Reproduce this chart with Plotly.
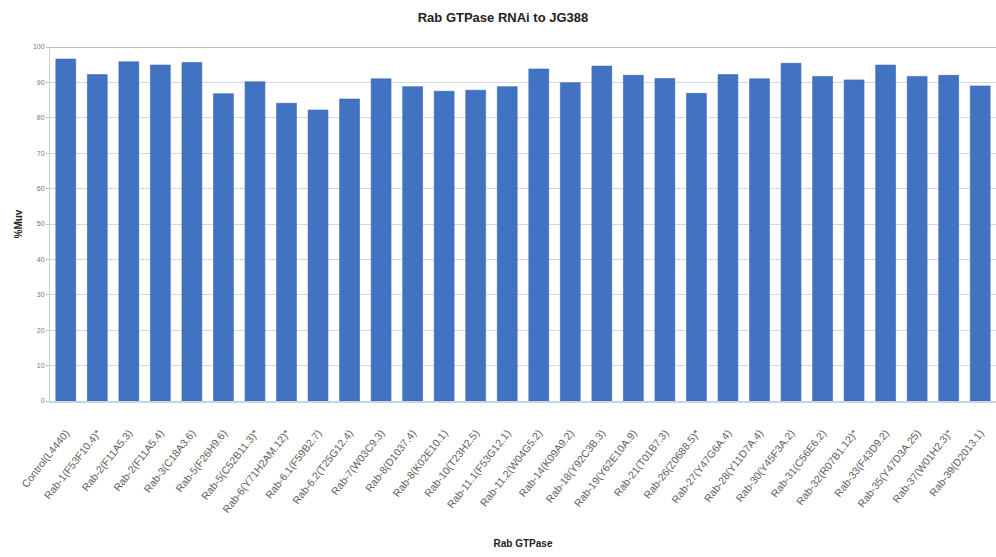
import plotly.graph_objects as go

# RNAi knockdown targets (gene and clone) and the resulting %Muv
genes = [
    "Control(L4440)", "Rab-1(F53F10.4)*", "Rab-2(F11A5.3)", "Rab-2(F11A5.4)",
    "Rab-3(C18A3.6)", "Rab-5(F26H9.6)", "Rab-5(C52B11.3)*", "Rab-6(Y71H2AM.12)*",
    "Rab-6.1(F59B2.7)", "Rab-6.2(T25G12.4)", "Rab-7(W03C9.3)", "Rab-8(D1037.4)",
    "Rab-8(K02E10.1)", "Rab-10(T23H2.5)", "Rab-11.1(F53G12.1)", "Rab-11.2(W04G5.2)",
    "Rab-14(K09A9.2)", "Rab-18(Y92C3B.3)", "Rab-19(Y62E10A.9)", "Rab-21(T01B7.3)",
    "Rab-26(Z0688.5)*", "Rab-27(Y47G6A.4)", "Rab-28(Y11D7A.4)", "Rab-30(Y45F3A.2)",
    "Rab-31(C56E6.2)", "Rab-32(R07B1.12)*", "Rab-33(F43D9.2)", "Rab-35(Y47D3A.25)",
    "Rab-37(W01H2.3)*", "Rab-39(D2013.1)",
]
muv = [
    96.6, 92.2, 95.8, 94.9, 95.6, 86.8, 90.2, 84.1, 82.2, 85.3,
    91.0, 88.8, 87.5, 87.8, 88.8, 93.8, 89.9, 94.6, 92.0, 91.1,
    86.9, 92.2, 91.0, 95.4, 91.7, 90.7, 94.9, 91.7, 92.0, 89.0,
]
y_ticks = [0, 10, 20, 30, 40, 50, 60, 70, 80, 90, 100]

fig = go.Figure(
    go.Bar(
        x=genes,
        y=muv,
        marker=dict(color="#4273C2", line=dict(color="#3A66AE", width=0.6)),
    )
)

fig.update_layout(
    width=996,
    height=557,
    margin=dict(l=50, r=0, t=47, b=156),
    paper_bgcolor="white",
    plot_bgcolor="white",
    bargap=0.37,
    showlegend=False,
    title=dict(
        text="<b>Rab GTPase RNAi to JG388</b>",
        x=0.505,
        xanchor="center",
        y=0.968,
        yanchor="middle",
        font=dict(family="Liberation Sans, Arial", size=13, color="#222222"),
    ),
    font=dict(family="Liberation Sans, Arial"),
)

fig.update_xaxes(
    type="category",
    range=[-0.5, len(genes) - 0.5],
    tickangle=-52,
    tickfont=dict(size=10.5, color="#606060"),
    ticklabelstandoff=20,
    showline=True,
    linecolor="#c9d3e3",
    linewidth=1.5,
    showgrid=False,
    ticks="",
    title=dict(
        text="<b>Rab GTPase</b>",
        font=dict(size=10, color="#222222"),
        standoff=26,
    ),
)

fig.update_yaxes(
    range=[0, 100],
    tickvals=y_ticks,
    tickfont=dict(size=7, color="#777777"),
    showgrid=True,
    gridcolor="#d3d9e4",
    gridwidth=1,
    showline=True,
    linecolor="#d0d0d0",
    ticks="outside",
    ticklen=3,
    tickcolor="#c0c0c0",
    zeroline=False,
    title=dict(
        text="<b>%Muv</b>",
        font=dict(size=10, color="#222222"),
        standoff=8,
    ),
)

# Darker border line along the top of the plotting area
fig.add_shape(
    type="line", xref="paper", yref="y",
    x0=0, x1=1, y0=100, y1=100,
    line=dict(color="#bdbdbd", width=2),
)

fig.write_html("out.html")
